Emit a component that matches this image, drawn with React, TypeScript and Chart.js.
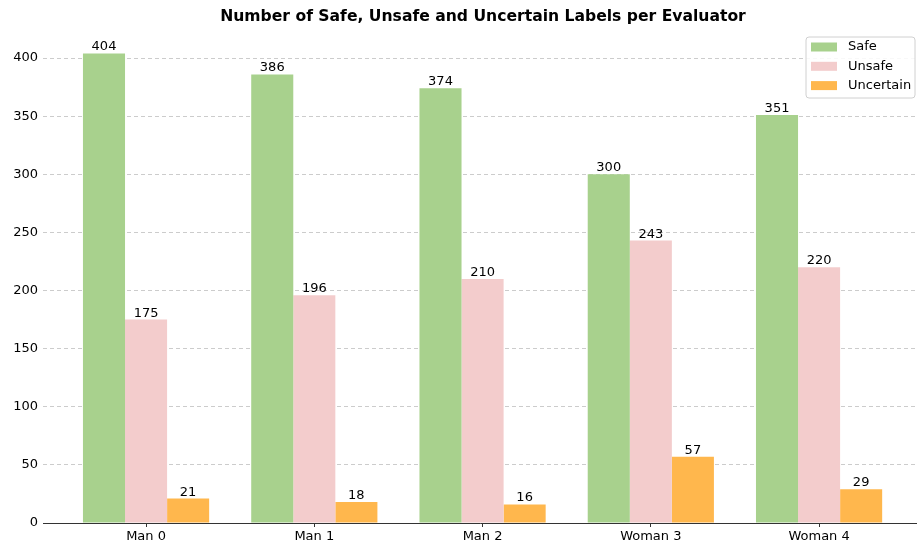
import React, { useEffect, useRef } from "react";
import { Chart, registerables } from "chart.js";

Chart.register(...registerables);

const categories = ["Man 0", "Man 1", "Man 2", "Woman 3", "Woman 4"];
const safeValues = [404, 386, 374, 300, 351];
const unsafeValues = [175, 196, 210, 243, 220];
const uncertainValues = [21, 18, 16, 57, 29];
const seriesNames = ["Safe", "Unsafe", "Uncertain"];
const seriesColors = ["#a8d18d", "#f3cccc", "#ffb74d"];
const yTicks = [0, 50, 100, 150, 200, 250, 300, 350, 400];
const titleText = "Number of Safe, Unsafe and Uncertain Labels per Evaluator";

const FONT = "'DejaVu Sans', sans-serif";

const overlayPlugin = {
  id: "overlay",
  afterDatasetsDraw(chart: any) {
    const ctx = chart.ctx as CanvasRenderingContext2D;
    ctx.save();
    // value labels
    ctx.font = `13px ${FONT}`;
    ctx.fillStyle = "#000";
    ctx.textAlign = "center";
    ctx.textBaseline = "alphabetic";
    chart.data.datasets.forEach((ds: any, di: number) => {
      const meta = chart.getDatasetMeta(di);
      meta.data.forEach((bar: any, i: number) => {
        const v = ds.data[i].y;
        ctx.fillText(String(v), bar.x, bar.y - 3);
      });
    });
    // title
    ctx.font = `bold 15.6px ${FONT}`;
    ctx.textBaseline = "middle";
    ctx.fillText(titleText, 483, 17);
    // legend
    const bx = 806, by = 37, bw = 109, bh = 61;
    ctx.beginPath();
    const r = 3;
    ctx.moveTo(bx + r, by);
    ctx.lineTo(bx + bw - r, by);
    ctx.quadraticCurveTo(bx + bw, by, bx + bw, by + r);
    ctx.lineTo(bx + bw, by + bh - r);
    ctx.quadraticCurveTo(bx + bw, by + bh, bx + bw - r, by + bh);
    ctx.lineTo(bx + r, by + bh);
    ctx.quadraticCurveTo(bx, by + bh, bx, by + bh - r);
    ctx.lineTo(bx, by + r);
    ctx.quadraticCurveTo(bx, by, bx + r, by);
    ctx.closePath();
    ctx.fillStyle = "rgba(255,255,255,0.85)";
    ctx.fill();
    ctx.strokeStyle = "#d0d0d0";
    ctx.lineWidth = 1;
    ctx.stroke();
    ctx.font = `13px ${FONT}`;
    ctx.textAlign = "left";
    ctx.textBaseline = "middle";
    seriesNames.forEach((name, i) => {
      const cy = 47 + i * 19.3;
      ctx.fillStyle = seriesColors[i];
      ctx.fillRect(811, cy - 4.5, 26, 9);
      ctx.fillStyle = "#000";
      ctx.fillText(name, 848, cy);
    });
    ctx.restore();
  },
};

export default function App() {
  const ref = useRef<HTMLCanvasElement>(null);
  useEffect(() => {
    document.body.style.margin = "0";
    const allSeries = [safeValues, unsafeValues, uncertainValues];
    const chart = new Chart(ref.current!, {
      type: "bar",
      data: {
        datasets: allSeries.map((vals, si) => ({
          label: seriesNames[si],
          data: vals.map((v, i) => ({ x: i, y: v })),
          backgroundColor: seriesColors[si],
          borderWidth: 0,
          categoryPercentage: 0.75,
          barPercentage: 1,
        })),
      },
      options: {
        animation: false,
        responsive: false,
        maintainAspectRatio: false,
        layout: { padding: { top: 30, right: 0, left: 0, bottom: 0 } },
        plugins: {
          legend: { display: false },
          title: { display: false },
          tooltip: { enabled: false },
        },
        scales: {
          x: {
            type: "linear",
            min: -0.6125,
            max: 4.582,
            offset: false,
            afterBuildTicks: (scale: any) => {
              scale.ticks = categories.map((_, i) => ({ value: i }));
            },
            afterFit: (scale: any) => {
              scale.height = 22;
            },
            ticks: {
              callback: (v: any) => categories[v as number] ?? "",
              color: "#000",
              font: { family: FONT, size: 13 },
              padding: 2,
              maxRotation: 0,
              autoSkip: false,
            },
            grid: {
              display: true,
              offset: false,
              drawOnChartArea: false,
              drawTicks: true,
              tickLength: 4,
              tickColor: "#333",
            },
            border: { display: true, color: "#333", width: 1 },
          },
          y: {
            min: 0,
            max: 424.2,
            afterBuildTicks: (scale: any) => {
              scale.ticks = yTicks.map((v) => ({ value: v }));
            },
            afterFit: (scale: any) => {
              scale.width = 43;
            },
            ticks: {
              color: "#000",
              font: { family: FONT, size: 13 },
              padding: 5,
            },
            grid: {
              display: true,
              drawOnChartArea: true,
              drawTicks: false,
              color: "#cccccc",
              lineWidth: 1,
            },
            border: { display: false, dash: [4, 3] },
          },
        },
      },
      plugins: [overlayPlugin],
    } as any);
    return () => chart.destroy();
  }, []);
  return (
    <div style={{ width: 917, height: 545, background: "#fff" }}>
      <canvas ref={ref} width={917} height={545} style={{ display: "block" }} />
    </div>
  );
}
